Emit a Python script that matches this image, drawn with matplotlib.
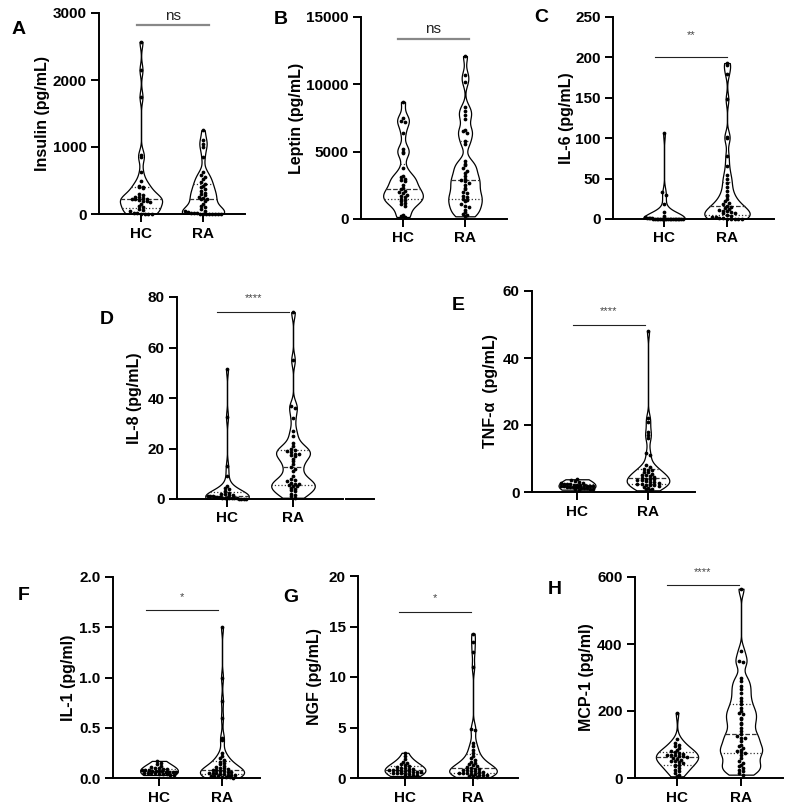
import matplotlib
matplotlib.use("Agg")
import matplotlib.pyplot as plt
import numpy as np

plt.rcParams['font.family'] = ['Liberation Sans', 'DejaVu Sans']
plt.rcParams['font.weight'] = 'bold'
plt.rcParams['axes.labelweight'] = 'bold'

groups = ["HC", "RA"]

# ---- data ----
insulin_hc = [2570, 2150, 1750, 880, 850, 620, 500, 420, 410, 400, 390, 300, 280, 260,
              250, 240, 230, 220, 220, 210, 200, 190, 180, 150, 120, 100, 80, 60, 40,
              20, 10, 5, 0, 0, 0]
insulin_ra = [1250, 1100, 1050, 1000, 850, 620, 580, 550, 520, 480, 450, 420, 400, 380,
              350, 320, 300, 280, 250, 240, 230, 220, 200, 150, 120, 100, 80, 50, 40,
              30, 20, 15, 10, 5, 5, 0, 0, 0, 0, 0, 0]
leptin_hc = [8700, 7500, 7300, 7200, 6400, 5200, 5000, 4900, 3800, 3200, 3100, 3000, 2900,
             2800, 2500, 2300, 2200, 2100, 2000, 1900, 1800, 1700, 1600, 1500, 1400, 1300,
             1200, 1100, 1000, 300, 200, 150]
leptin_ra = [12100, 10700, 10200, 8300, 8000, 7700, 7400, 6600, 6500, 6400, 5800, 5600,
             4300, 4100, 4000, 3800, 3600, 3400, 3200, 3000, 2900, 2800, 2700, 2500, 2300,
             2200, 2000, 1900, 1700, 1600, 1500, 1400, 1300, 1100, 1000, 900, 700, 500,
             400, 300, 200]
il6_hc = [106, 33, 30, 19, 9, 4, 2, 1.5, 1, 1, 0.8, 0.5, 0.5, 0.3, 0.2, 0.2, 0.1, 0.1,
          0.1, 0, 0, 0, 0, 0, 0, 0, 0, 0, 0, 0]
il6_ra = [193, 190, 180, 148, 102, 100, 78, 65, 55, 50, 45, 40, 35, 30, 28, 25, 22, 20,
          18, 16, 15, 14, 12, 11, 10, 10, 9, 8, 7, 5, 4, 3, 2, 1, 1, 0.5, 0.5, 0, 0, 0]
il8_hc = [51.5, 32.5, 13, 9, 5, 4.5, 4, 3, 2.5, 2, 2, 1.5, 1.5, 1, 1, 1, 0.8, 0.7, 0.6,
          0.5, 0.5, 0.4, 0.3, 0.3, 0.2, 0.2, 0.1, 0.1, 0.1, 0]
il8_ra = [74, 55, 37, 36, 32, 27, 25, 22, 21, 20, 19.5, 19, 18.5, 18, 18, 17.5, 17, 16,
          15, 14, 12.5, 12, 11, 9, 8, 7.5, 7, 6.5, 6, 6, 5.5, 5, 5, 4.5, 4, 3.5, 3, 2,
          1.5, 1, 0.5]
tnf_hc = [3.8, 3.5, 3.2, 3.0, 2.8, 2.6, 2.5, 2.4, 2.3, 2.2, 2.1, 2.0, 2.0, 1.9, 1.8, 1.8,
          1.7, 1.7, 1.6, 1.6, 1.5, 1.5, 1.4, 1.3, 1.2, 1.1, 1.0, 0.9, 0.8, 0.7]
tnf_ra = [48, 22, 21, 18, 17, 16, 11.5, 11, 8, 7.5, 7, 6.5, 6.5, 6, 6, 5.5, 5, 5, 4.8,
          4.5, 4.2, 4, 4, 3.8, 3.5, 3.5, 3.2, 3, 3, 2.8, 2.5, 2.5, 2.2, 2, 2, 1.8, 1.5,
          1.2, 1, 0.8, 0.5]
il1_hc = [0.17, 0.15, 0.14, 0.12, 0.11, 0.10, 0.10, 0.09, 0.09, 0.08, 0.08, 0.08, 0.07,
          0.07, 0.07, 0.07, 0.06, 0.06, 0.06, 0.06, 0.05, 0.05, 0.05, 0.05, 0.04, 0.04,
          0.04, 0.03, 0.03]
il1_ra = [1.5, 1.0, 0.77, 0.6, 0.4, 0.38, 0.25, 0.22, 0.2, 0.18, 0.16, 0.15, 0.14, 0.12,
          0.11, 0.10, 0.10, 0.09, 0.08, 0.08, 0.07, 0.07, 0.06, 0.06, 0.05, 0.05, 0.05,
          0.04, 0.04, 0.03, 0.03, 0.03, 0.02, 0.02, 0.02, 0.01, 0.01, 0.01, 0.0]
ngf_hc = [2.5, 2.2, 1.9, 1.6, 1.5, 1.4, 1.3, 1.2, 1.1, 1.0, 1.0, 0.9, 0.9, 0.8, 0.8, 0.8,
          0.7, 0.7, 0.7, 0.6, 0.6, 0.6, 0.5, 0.5, 0.5, 0.4, 0.4, 0.3, 0.3, 0.2]
ngf_ra = [14.3, 13.5, 12.5, 11, 4.9, 4.8, 3.5, 3.2, 2.8, 2.5, 2.2, 2.0, 1.8, 1.6, 1.5,
          1.4, 1.3, 1.2, 1.1, 1.0, 0.9, 0.9, 0.8, 0.8, 0.7, 0.7, 0.6, 0.6, 0.5, 0.5, 0.5,
          0.4, 0.4, 0.3, 0.3, 0.3, 0.2, 0.2, 0.1]
mcp1_hc = [195, 115, 105, 100, 95, 90, 85, 80, 78, 75, 72, 70, 70, 68, 66, 65, 63, 60,
           58, 55, 52, 50, 48, 45, 40, 38, 35, 30, 25, 20, 15, 10, 5]
mcp1_ra = [565, 380, 350, 345, 300, 290, 275, 265, 255, 240, 230, 220, 210, 200, 195, 190,
           180, 175, 165, 160, 150, 140, 130, 125, 120, 118, 110, 100, 95, 90, 85, 80, 78,
           75, 70, 60, 50, 45, 40, 35, 30, 25, 20, 15, 10]

letters = ["A", "B", "C", "D", "E", "F", "G", "H"]
ylabels = ["Insulin (pg/mL)", "Leptin (pg/mL)", "IL-6 (pg/mL)", "IL-8 (pg/mL)",
           "TNF-α  (pg/mL)", "IL-1 (pg/ml)", "NGF (pg/mL)", "MCP-1 (pg/ml)"]
hc_data = [insulin_hc, leptin_hc, il6_hc, il8_hc, tnf_hc, il1_hc, ngf_hc, mcp1_hc]
ra_data = [insulin_ra, leptin_ra, il6_ra, il8_ra, tnf_ra, il1_ra, ngf_ra, mcp1_ra]
yticks = [[0, 1000, 2000, 3000], [0, 5000, 10000, 15000], [0, 50, 100, 150, 200, 250],
          [0, 20, 40, 60, 80], [0, 20, 40, 60], [0.0, 0.5, 1.0, 1.5, 2.0],
          [0, 5, 10, 15, 20], [0, 200, 400, 600]]
sig_labels = ["ns", "ns", "**", "****", "****", "*", "*", "****"]
sig_y = [2820, 13370, 200, 74, 50, 1.67, 16.4, 576]
sig_text_y = [2955, 14110, 228, 79.6, 54, 1.8, 17.8, 615]
sig_x = [(0.935, 2.10), (0.92, 2.06), (0.86, 2.0), (0.85, 1.94), (0.94, 1.96),
         (0.79, 1.94), (0.91, 1.97), (0.84, 1.97)]

# ---- layout in pixels: y-axis x, top, x-axis right end, bottom, HC x, RA x ----
W, H = 787, 808
boxes = [(99, 13, 245, 214, 141, 203), (361, 17, 507, 219, 403, 465),
         (613, 17, 774, 219, 664, 727), (177, 297, 343, 499, 227, 293),
         (532, 291, 695, 492, 577, 648), (113, 577, 260, 778, 159, 222),
         (358, 576, 518, 778, 405, 473), (635, 577, 783, 778, 677, 741)]
letter_pos = [(19, 29), (281, 20), (541, 18), (107, 320), (458, 305), (24, 595),
              (291, 598), (555, 590)]
ylabel_px = [43, 297, 567, 134, 491, 68, 315, 587]
# max half width of each violin (HC, RA)
half_w = [(0.34, 0.34), (0.32, 0.27), (0.33, 0.36), (0.33, 0.33), (0.26, 0.30),
          (0.30, 0.35), (0.30, 0.35), (0.33, 0.33)]


def kde_half(vals, grid, bw, maxhalf):
    d = (grid[:, None] - vals[None, :]) / bw
    dens = np.exp(-0.5 * d ** 2).sum(1)
    return dens / dens.max() * maxhalf


def draw_violin(ax, vals, pos, ymax, maxhalf):
    vals = np.asarray(vals, float)
    bw = 0.03 * ymax
    grid = np.linspace(vals.min(), vals.max(), 400)
    half = kde_half(vals, grid, bw, maxhalf)
    ax.fill_betweenx(grid, pos - half, pos + half, facecolor='white',
                     edgecolor='black', lw=0.9, zorder=2)
    # median / quartiles
    q1, med, q3 = np.percentile(vals, [25, 50, 75])
    for q, ls in [(q1, ':'), (med, '--'), (q3, ':')]:
        w = np.interp(q, grid, half)
        ax.plot([pos - w, pos + w], [q, q], ls=ls, color='#333333', lw=0.9, zorder=3)
    # swarm-like dot placement inside the violin
    ybin = 0.015 * ymax
    bins = np.floor(vals / ybin)
    xs = np.full(len(vals), float(pos))
    for b in np.unique(bins):
        idx = np.where(bins == b)[0]
        k = len(idx)
        offs = (np.arange(k) - (k - 1) / 2) * 0.06
        lim = np.interp(vals[idx].mean(), grid, half) * 0.9
        if k > 1 and np.abs(offs).max() > lim:
            offs = offs * lim / np.abs(offs).max()
        xs[idx] = pos + offs
    ax.plot(xs, vals, 'o', color='black', ms=2.7, mew=0, zorder=4, clip_on=False)


fig = plt.figure(figsize=(W / 100, H / 100), dpi=100)

for i in range(8):
    x0, yt, x1, yb, phc, pra = boxes[i]
    ax = fig.add_axes([x0 / W, 1 - yb / H, (x1 - x0) / W, (yb - yt) / H])
    sp = pra - phc
    ax.set_xlim(1 - (phc - x0) / sp, 2 + (x1 - pra) / sp)
    ymax = yticks[i][-1]
    ax.set_ylim(0, ymax)

    draw_violin(ax, hc_data[i], 1, ymax, half_w[i][0])
    draw_violin(ax, ra_data[i], 2, ymax, half_w[i][1])

    ax.set_xticks([1, 2])
    ax.set_xticklabels(groups, fontsize=11.5, fontweight='bold')
    ax.set_yticks(yticks[i])
    if i == 5:
        ax.set_yticklabels(["%.1f" % t for t in yticks[i]])
    ax.tick_params(axis='both', length=5.5, width=1.4, labelsize=11)
    for s in ['top', 'right']:
        ax.spines[s].set_visible(False)
    for s in ['left', 'bottom']:
        ax.spines[s].set_linewidth(1.4)
        ax.spines[s].set_zorder(5)

    ax.set_ylabel(ylabels[i], fontsize=11.5, va='center')
    ax.yaxis.set_label_coords((ylabel_px[i] - x0) / (x1 - x0), 0.5)

    # significance bar
    gray = i < 2
    ax.plot(sig_x[i], [sig_y[i]] * 2, color='#888888' if gray else '#222222',
            lw=1.6 if gray else 0.8, clip_on=False, zorder=3)
    ax.text(np.mean(sig_x[i]), sig_text_y[i], sig_labels[i], ha='center', va='center',
            fontweight='normal', fontsize=11 if gray else 8,
            color='#222222' if gray else '#444444', clip_on=False)

    fig.text(letter_pos[i][0] / W, 1 - letter_pos[i][1] / H, letters[i], fontsize=14,
             fontweight='bold', ha='center', va='center')

    if i == 3:
        ax.plot([(346 - x0) / (x1 - x0), (374 - x0) / (x1 - x0)], [0, 0],
                transform=ax.transAxes, color='black', lw=1.4, clip_on=False)

fig.savefig("out.png", dpi=100)
